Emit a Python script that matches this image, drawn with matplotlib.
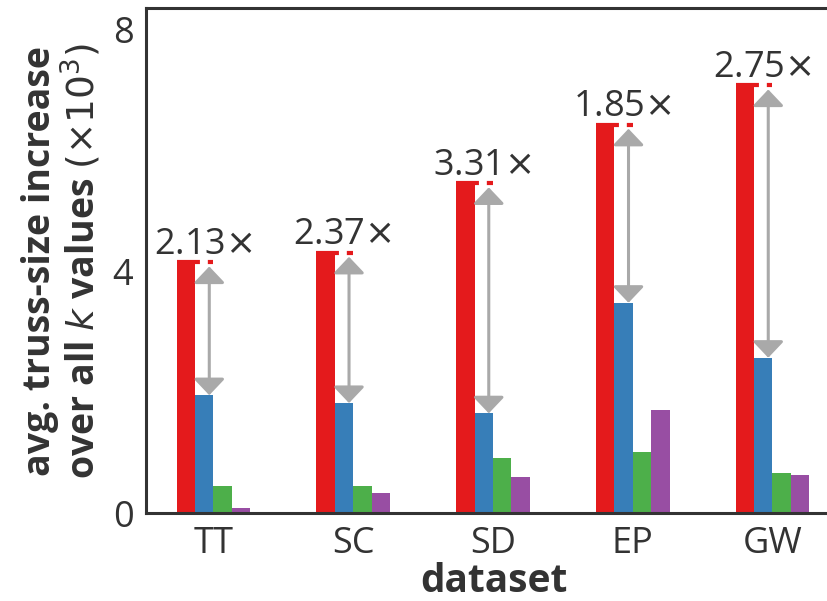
import matplotlib
matplotlib.use("Agg")
import matplotlib.pyplot as plt
import numpy as np

plt.rcParams["font.family"] = ["Open Sans", "DejaVu Sans"]
plt.rcParams["mathtext.fontset"] = "dejavusans"

datasets = ["TT", "SC", "SD", "EP", "GW"]
red_vals = [4.15, 4.31, 5.46, 6.43, 7.08]
blue_vals = [1.95, 1.82, 1.65, 3.48, 2.57]
green_vals = [0.45, 0.44, 0.91, 1.01, 0.66]
purple_vals = [0.09, 0.33, 0.60, 1.71, 0.63]
yticks = [0, 4, 8]

colors = ["#e41a1c", "#377eb8", "#4daf4a", "#984ea3"]
text_color = "#333333"
arrow_color = "#a9a9a9"

fig = plt.figure(figsize=(8.28, 6.01), dpi=100)
ax = fig.add_axes([0.1763, 0.1464, 0.841, 0.8403])

x = np.arange(len(datasets))
w = 0.132
series = [red_vals, blue_vals, green_vals, purple_vals]
for i, (vals, c) in enumerate(zip(series, colors)):
    ax.bar(x + (i - 1.5) * w, vals, width=w, color=c, linewidth=0, zorder=2)

for xi, r, b in zip(x, red_vals, blue_vals):
    # dashed red marker at the top of the red bar, running to the arrow
    ax.plot([xi - 2 * w, xi], [r, r], color=colors[0], lw=3.0,
            linestyle=(0, (5.5, 1.9)), solid_capstyle="butt",
            dash_capstyle="butt", zorder=3)
    ax_x = xi - 0.03
    ax.annotate("", xy=(ax_x, b), xytext=(ax_x, r),
                arrowprops=dict(arrowstyle="<|-|>,head_length=1.0,head_width=0.95",
                                color=arrow_color, lw=2.2, mutation_scale=10,
                                shrinkA=3, shrinkB=0),
                zorder=4)
    ax.annotate(f"{r / b:.2f}$\\times$", xy=(xi - 0.075, r), xytext=(0, 6),
                textcoords="offset points", ha="center", va="baseline",
                fontsize=26, color=text_color)

ax.set_xlim(-0.483, 4.5)
ax.set_ylim(0, 8.36)
ax.set_xticks(x)
ax.set_xticklabels(datasets)
ax.set_yticks(yticks)
ax.set_yticklabels([str(t) for t in yticks])
ax.tick_params(axis="both", length=0, labelsize=26, colors=text_color, pad=9)

for s in ax.spines.values():
    s.set_color(text_color)
    s.set_linewidth(2.2)

ax.set_xlabel("dataset", fontsize=28, fontweight="bold", color=text_color, labelpad=0)
ax.set_ylabel("avg. truss-size increase\nover all $k$ values $(\\times 10^{3})$",
              fontsize=27, fontweight="bold", color=text_color, labelpad=6,
              linespacing=1.05)

fig.savefig("out.png", dpi=100)
